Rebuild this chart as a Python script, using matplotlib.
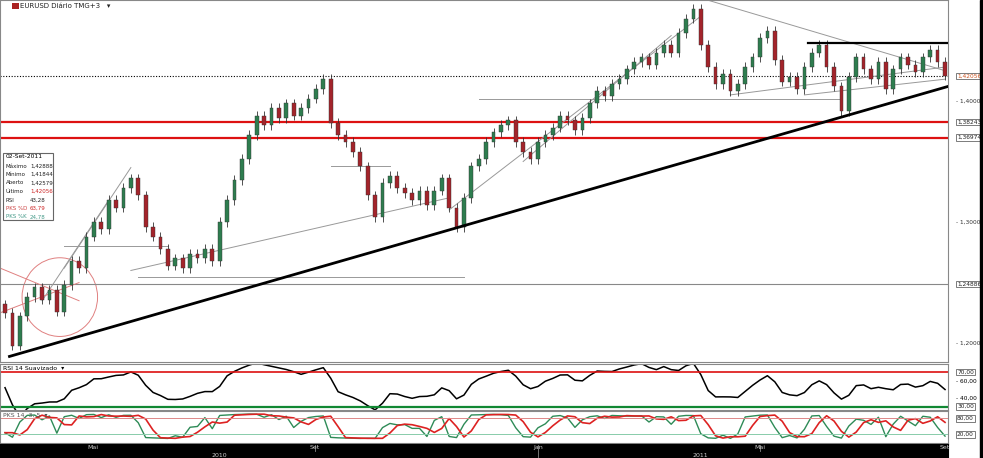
import numpy as np
import pandas as pd
import matplotlib
matplotlib.use("Agg")
import matplotlib.pyplot as plt
from matplotlib.transforms import blended_transform_factory as btf
from matplotlib.patches import Ellipse

closes = [1.225,1.198,1.222,1.238,1.246,1.236,1.244,1.226,1.248,1.268,1.262,1.288,1.300,1.294,1.318,1.312,
1.328,1.336,1.322,1.296,1.288,1.278,1.264,1.270,1.262,1.274,1.270,1.278,1.268,1.300,1.318,1.335,
1.352,1.372,1.388,1.380,1.394,1.386,1.398,1.388,1.394,1.402,1.410,1.418,1.382,1.372,1.366,1.358,
1.346,1.322,1.304,1.332,1.338,1.328,1.324,1.318,1.326,1.314,1.326,1.336,1.312,1.296,1.320,1.346,
1.352,1.366,1.374,1.380,1.384,1.366,1.358,1.352,1.366,1.372,1.378,1.388,1.384,1.376,1.386,1.398,
1.408,1.404,1.414,1.418,1.426,1.432,1.436,1.430,1.440,1.446,1.440,1.456,1.468,1.476,1.446,1.428,
1.414,1.422,1.408,1.414,1.428,1.436,1.452,1.458,1.434,1.416,1.420,1.410,1.428,1.440,1.446,1.428,
1.412,1.392,1.420,1.436,1.426,1.418,1.432,1.410,1.426,1.436,1.430,1.424,1.436,1.442,1.432,1.421]
first_open = 1.232
levels_red = [1.38243, 1.36974]
level_gray = 1.24886
last_price = 1.42056
price_ticks = [1.40, 1.30, 1.20]
month_labels = [("Mai", 11.9), ("Set", 41.9), ("Jan", 72.0), ("Mai", 102.0), ("Set", 127.0)]
year_labels = [("2010", 29.0), ("2011", 94.0)]
info_rows = [("Máximo", "1,42888"), ("Mínimo", "1,41844"), ("Aberto", "1,42579"),
             ("Último", "1,42056"), ("RSI", "43,28"), ("PKS %D", "63,79"), ("PKS %K", "24,78")]
black_trend = (0.6, 1.189, 127.4, 1.412)
gray_lines = [(8, 1.262, 17, 1.345), (5, 1.235, 14, 1.318), (17, 1.260, 60, 1.320),
              (60, 1.310, 94, 1.470), (70, 1.350, 90, 1.454), (98, 1.405, 127, 1.428),
              (108, 1.405, 127, 1.418), (94, 1.485, 127, 1.425)]
gray_hlines = [(8, 1.28, 22, 1.28), (18, 1.255, 62, 1.255), (64, 1.402, 113, 1.402), (44, 1.346, 52, 1.346)]
black_h = (108.5, 1.448, 127.4, 1.448)

c = np.array(closes)
o = np.concatenate([[first_open], c[:-1]])
n = len(c)
x = np.arange(n)
hi = np.maximum(o, c) + 0.004
lo = np.minimum(o, c) - 0.004

s = pd.Series(c)
d = s.diff()
up = d.clip(lower=0).ewm(alpha=1/6, adjust=False).mean()
dn = (-d.clip(upper=0)).ewm(alpha=1/6, adjust=False).mean()
rsi = (100 - 100 / (1 + up / dn.replace(0, 1e-9))).fillna(50)
rsi = 52 + (rsi - 50) * 0.8
rsi = rsi.rolling(2, min_periods=1).mean()
hh = pd.Series(hi).rolling(5, min_periods=1).max()
ll = pd.Series(lo).rolling(5, min_periods=1).min()
k = ((s - ll) / (hh - ll) * 100)
dline = k.rolling(2, min_periods=1).mean().shift(1).bfill()

W, H = 983, 458
fig = plt.figure(figsize=(W/100, H/100), dpi=100)
fig.patch.set_facecolor("white")
def ax_px(x0, y0, x1, y1):
    return fig.add_axes([x0/W, 1-y1/H, (x1-x0)/W, (y1-y0)/H])
XL = (-0.68, 127.4)
ax = ax_px(0, 0, 948, 362)
ax.set_xlim(*XL); ax.set_ylim(1.1844, 1.4834)
for sp in ax.spines.values(): sp.set_color("#888888"); sp.set_linewidth(0.8)
ax.set_xticks([]); ax.set_yticks([])

for i in range(n):
    col = "#2e7d4f" if c[i] >= o[i] else "#a3242b"
    ax.vlines(x[i], lo[i], hi[i], color="#333333", lw=0.6, zorder=3)
    ax.bar(x[i], abs(c[i]-o[i]) or 0.0008, bottom=min(c[i], o[i]), width=0.5, color=col,
           edgecolor="#333333", lw=0.3, zorder=4)

for lv in levels_red:
    ax.axhline(lv, color="#dd1111", lw=1.6, zorder=2)
ax.axhline(level_gray, color="#888888", lw=0.8, zorder=2)
ax.axhline(last_price, color="black", lw=0.8, ls=(0, (1, 1.5)), zorder=2)
for (a, p, b, q) in gray_lines + gray_hlines:
    ax.plot([a, b], [p, q], color="#999999", lw=0.7, zorder=2)
ax.plot([black_trend[0], black_trend[2]], [black_trend[1], black_trend[3]], color="black", lw=2, zorder=5)
ax.plot([black_h[0], black_h[2]], [black_h[1], black_h[3]], color="black", lw=1.6, zorder=5)
ax.add_patch(Ellipse((7.4, 1.238), 10.2, 0.065, fill=False, ec="#e08080", lw=0.7))
ax.plot([-0.68, 10], [1.262, 1.235], color="#e08080", lw=0.7)
ax.plot([-0.68, 10], [1.225, 1.250], color="#e08080", lw=0.7)

ax.add_patch(plt.Rectangle((12/948, 1-9/362), 7/948, 6/362, transform=ax.transAxes, fc="#aa2222", ec="none"))
ax.text(20/948, 1-6/362, "EURUSD Diário TMG+3   ▾", transform=ax.transAxes, fontsize=5,
        va="center", ha="left", color="#222222")
ax.add_patch(plt.Rectangle((3/948, 1-220/362), 50/948, 67/362, transform=ax.transAxes,
             fill=True, fc="white", ec="#666666", lw=0.8, zorder=6))
ax.text(6/948, 1-157/362, "02-Set-2011", transform=ax.transAxes, fontsize=4.3, va="center", zorder=7)
for j, (a, b) in enumerate(info_rows):
    yy = 1-(166+j*8.5)/362
    lc = "#cc4444" if j == 5 else ("#449988" if j == 6 else "#222222")
    vc = "#cc2222" if j in (3, 5) else ("#449988" if j == 6 else "#222222")
    ax.text(6/948, yy, a, transform=ax.transAxes, fontsize=4.0, va="center", color=lc, zorder=7)
    ax.text(30/948, yy, b, transform=ax.transAxes, fontsize=4.0, va="center", color=vc, zorder=7)

def boxlabel(a, v, txt, ec="#666666", tc="#222222"):
    a.text(957/W, v, txt, transform=btf(fig.transFigure, a.transData), fontsize=4.2, va="center",
           color=tc, bbox=dict(boxstyle="square,pad=0.12", fc="white", ec=ec, lw=0.6))
for t in price_ticks:
    ax.text(956/W, t, "- " + ("%.5f" % t).replace(".", ","), transform=btf(fig.transFigure, ax.transData),
            fontsize=4.2, va="center", color="#333333")
boxlabel(ax, last_price, "1,42056", tc="#cc5522")
for lv in levels_red:
    boxlabel(ax, lv, ("%.5f" % lv).replace(".", ","))
boxlabel(ax, level_gray, ("%.5f" % level_gray).replace(".", ","))

ar = ax_px(0, 364, 948, 410)
ar.set_xlim(*XL); ar.set_ylim(26, 79.6)
ar.set_xticks([]); ar.set_yticks([])
for sp in ar.spines.values(): sp.set_color("#888888"); sp.set_linewidth(0.8)
ar.plot(x, rsi, color="black", lw=1.1)
ar.axhline(70, color="#dd1111", lw=1.2)
ar.axhline(30, color="#118833", lw=1.6)
ar.text(3/948, 0.9, "RSI 14 Suavizado  ▾", transform=ar.transAxes, fontsize=4.5, va="center")
boxlabel(ar, 70, "70,00"); boxlabel(ar, 30, "30,00")
for v in (60, 40):
    ar.text(956/W, v, "- %d,00" % v, transform=btf(fig.transFigure, ar.transData), fontsize=4.2, va="center")

ast = ax_px(0, 411, 948, 443)
ast.set_xlim(*XL); ast.set_ylim(-12, 108)
ast.set_xticks([]); ast.set_yticks([])
for sp in ast.spines.values(): sp.set_color("#888888"); sp.set_linewidth(0.8)
ast.plot(x, k, color="#2e8b57", lw=1.0)
ast.plot(x, dline, color="#dd2222", lw=1.2)
ast.axhline(80, color="#dd8888", lw=0.7)
ast.axhline(20, color="#88ccaa", lw=0.7)
ast.text(3/948, 0.88, "PKS 14, 3, 5  ▾", transform=ast.transAxes, fontsize=4.5, va="center", color="#555555")
boxlabel(ast, 80, "80,00"); boxlabel(ast, 20, "20,00")

at = ax_px(0, 444, 948, 458)
at.set_facecolor("black"); at.set_xlim(*XL); at.set_ylim(0, 1)
at.set_xticks([]); at.set_yticks([])
for m, xi in month_labels:
    at.text(xi, 0.75, m, color="#cccccc", fontsize=4.5, ha="center", va="center")
for yl, xi in year_labels:
    at.text(xi, 0.2, yl, color="#cccccc", fontsize=4.5, ha="center", va="center")
at.axvline(72.0, color="#888888", lw=0.6)
at.axvline(41.9, ymin=0.5, color="#888888", lw=0.6)
at.axvline(102.0, ymin=0.5, color="#888888", lw=0.6)
fig.add_artist(plt.Rectangle((980/W, 0), 3/W, 1, transform=fig.transFigure, color="black"))
fig.savefig("out.png", dpi=100)
